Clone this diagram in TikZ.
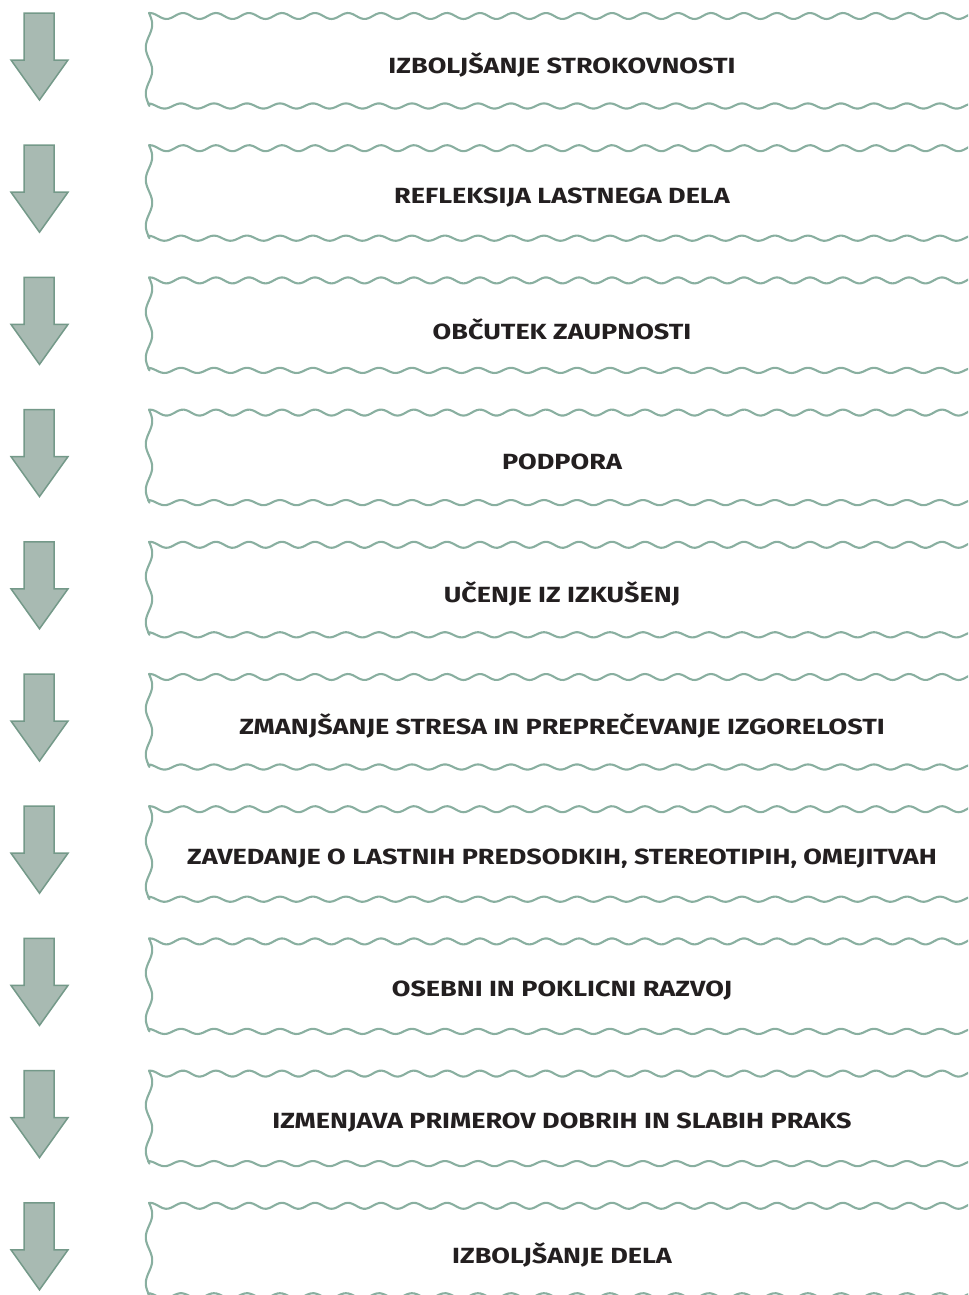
\documentclass[tikz,border=0pt]{standalone}
\usepackage{fontspec}
\setsansfont{Fira Sans}[FakeStretch=1.23]
\usetikzlibrary{positioning}

\tikzset{
  rowitem/.pic={
    % down arrow
    \filldraw[arrowbody] (24,0) -- (54,0) -- (54,47) -- (68,47) -- (39.5,87) -- (11,47) -- (24,47) -- cycle;
    % wavy box
    \draw[wavybox] plot[domain=150:990, samples=320] (\x, {3-3*cos((\x-150)/33*360)})
      -- (990,93)
      -- plot[domain=990:148, samples=320] (\x, {93-2.6*cos((\x-148)/33*360)})
      -- plot[domain=93:0, samples=60] ({149+3.2*sin(\x/46*360)}, \x) -- cycle;
    \node[itemtext] (-txt) at (562,52) {#1};
  }
}

\begin{document}
\begin{tikzpicture}[x=0.02cm, y=-0.02cm,
    arrowbody/.style={fill=arrowfill, draw=arrowline, line width=0.03cm, line join=miter},
    wavybox/.style={draw=boxline, line width=0.042cm, line join=round},
    itemtext/.style={font=\sffamily\bfseries\fontsize{12.5}{15}\selectfont, text=textdark, inner sep=0}]
        % Colors
        \definecolor{arrowfill}{RGB}{168,186,178}
        \definecolor{arrowline}{RGB}{116,153,137}
        \definecolor{boxline}{RGB}{137,175,160}
        \definecolor{textdark}{RGB}{35,31,32}

        \useasboundingbox (0,0) rectangle (968,1295);
        \clip (0,0) rectangle (968,1295);

        \pic (r1) at (0,13) {rowitem={IZBOLJŠANJE STROKOVNOSTI}};
        \pic (r2) at (0,145.2) {rowitem={REFLEKSIJA LASTNEGA DELA}};
        \pic (r3) at (0,277.4) {rowitem={OBČUTEK ZAUPNOSTI}};
        \pic (r4) at (0,409.6) {rowitem={PODPORA}};
        \pic (r5) at (0,541.8) {rowitem={UČENJE IZ IZKUŠENJ}};
        \pic (r6) at (0,674) {rowitem={ZMANJŠANJE STRESA IN PREPREČEVANJE IZGORELOSTI}};
        \pic (r7) at (0,806.2) {rowitem={ZAVEDANJE O LASTNIH PREDSODKIH, STEREOTIPIH, OMEJITVAH}};
        \pic (r8) at (0,938.4) {rowitem={OSEBNI IN POKLICNI RAZVOJ}};
        \pic (r9) at (0,1070.6) {rowitem={IZMENJAVA PRIMEROV DOBRIH IN SLABIH PRAKS}};
        \pic (r10) at (0,1202.8) {rowitem={IZBOLJŠANJE DELA}};
      \end{tikzpicture}
\end{document}
